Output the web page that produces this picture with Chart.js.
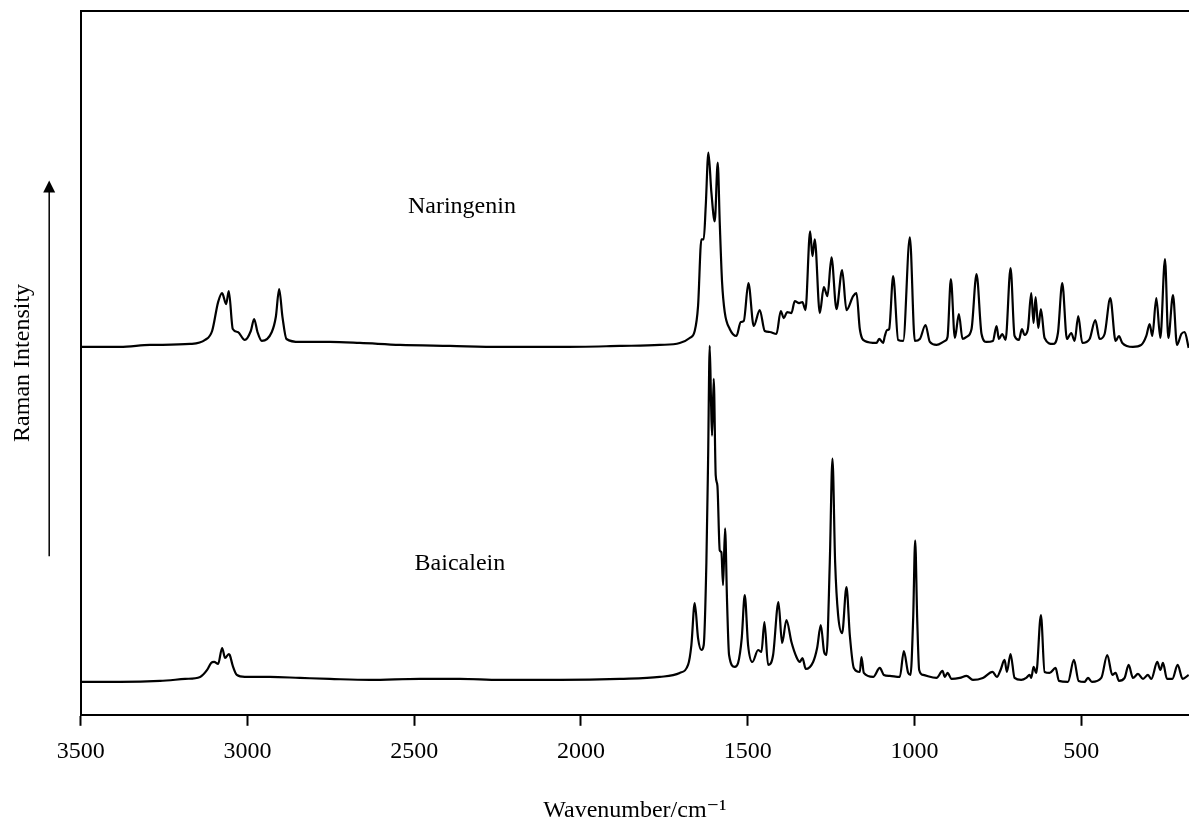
<!DOCTYPE html>
<html>
<head>
<meta charset="utf-8">
<script src="https://cdn.jsdelivr.net/npm/chart.js@4.4.1/dist/chart.umd.min.js"></script>
<style>
  html, body { margin: 0; padding: 0; background: #ffffff; }
  #wrap { width: 1189px; height: 825px; }
</style>
</head>
<body>
<div id="wrap"><canvas id="c" width="1189" height="825"></canvas></div>
<script>
// ---- data ----
const xTicks = [3500, 3000, 2500, 2000, 1500, 1000, 500];

const naringeninWn = [3500,3382,3292,3172,3127,3106,3088,3076,3064,3056,
  3044,3029,3008,2990,2980,2970,2957,2927,2915,2905,
  2895,2883,2843,2753,2663,2543,2393,2243,2063,1884,
  1764,1704,1674,1659,1649,1639,1632,1626,1618,1609,
  1599,1590,1584,1577,1569,1554,1534,1521,1512,1498,
  1482,1464,1449,1434,1414,1401,1392,1382,1369,1359,
  1346,1336,1327,1313,1306,1299,1284,1272,1261,1249,
  1234,1217,1204,1184,1174,1164,1149,1114,1106,1094,
  1089,1082,1076,1064,1049,1034,1014,999,984,967,
  954,934,909,901,891,879,867,856,844,829,
  814,799,784,765,754,747,737,727,712,700,
  687,678,670,660,650,643,637,629,621,610,
  585,570,557,543,530,520,509,497,475,458,
  445,430,413,397,387,377,345,320,305,295,
  287,275,263,249,239,225,213,200,190,178];
const naringeninI = [369,369,371,372,376,385,414,423,412,425,
  387,384,376,385,397,384,375,384,399,427,
  399,377,374,374,373,371,370,369,369,370,
  371,373,378,385,410,477,477,510,564,524,
  495,554,494,434,404,387,380,394,395,433,
  390,406,385,384,382,405,398,404,403,415,
  413,414,406,485,460,477,403,429,420,459,
  407,446,406,420,423,387,375,373,377,373,
  380,386,387,440,376,375,479,375,377,391,
  374,371,375,379,437,378,402,377,379,387,
  442,382,374,375,390,377,382,376,448,380,
  376,387,381,387,423,393,419,388,407,378,
  372,383,433,377,383,375,400,373,377,396,
  377,382,418,375,380,373,369,371,380,392,
  380,418,378,457,378,421,371,382,384,368];

const baicaleinWn = [3500,3382,3262,3187,3142,3121,3109,3100,3088,3076,
  3067,3056,3053,3044,3032,3008,2933,2843,2753,2633,
  2483,2363,2243,2063,1884,1764,1704,1679,1669,1659,
  1649,1639,1632,1624,1619,1614,1610,1607,1602,1596,
  1591,1584,1579,1574,1568,1562,1556,1539,1529,1518,
  1509,1499,1486,1469,1459,1450,1439,1424,1408,1397,
  1384,1369,1354,1344,1336,1326,1304,1292,1281,1271,
  1264,1254,1246,1238,1229,1217,1204,1194,1182,1164,
  1159,1152,1124,1104,1092,1074,1044,1032,1019,1012,
  1004,998,992,986,974,934,916,909,901,889,
  864,844,825,795,766,753,742,730,723,712,
  700,680,665,655,650,643,635,621,610,595,
  577,567,540,522,508,490,480,468,440,422,
  407,397,387,370,358,345,330,315,300,290,
  272,263,255,243,227,211,196,178];
const baicaleinI = [33,33,34,36,38,45,52,53,51,67,
  57,61,60,49,40,38,38,37,36,35,
  36,36,35,35,36,38,42,50,70,112,
  77,65,70,153,253,370,313,280,337,240,
  230,165,163,130,187,113,60,48,52,77,
  120,70,53,65,63,93,50,60,113,72,
  95,73,58,53,57,46,53,67,90,63,
  60,153,257,153,100,82,128,80,47,43,
  58,42,38,47,40,39,38,64,42,40,
  97,175,97,45,40,37,44,38,42,36,
  37,39,35,37,43,38,45,55,43,61,
  37,35,37,40,37,48,42,100,43,42,
  47,34,33,55,34,33,37,33,37,60,
  40,42,34,37,50,37,41,36,40,36,
  53,45,52,36,36,50,36,40];

const seriesNames = ['Naringenin', 'Baicalein'];

// ---- build ----
const toPts = (xs, ys) => xs.map((x, i) => ({ x: x, y: ys[i] }));
const FONT = '"Times New Roman", "Liberation Serif", "DejaVu Serif", serif';

const decorations = {
  id: 'decorations',
  afterDraw(chart, args, opts) {
    const { ctx, scales } = chart;
    const x = scales.x, y = scales.y;
    ctx.save();
    ctx.fillStyle = '#000';
    ctx.font = '24px ' + FONT;
    ctx.textAlign = 'center';
    ctx.textBaseline = 'middle';
    opts.labels.forEach(l => {
      ctx.fillText(l.text, x.getPixelForValue(l.wn), y.getPixelForValue(l.val));
    });
    const ax = chart.chartArea.left - 31.5;
    const yb = y.getPixelForValue(opts.arrow.from);
    const yt = y.getPixelForValue(opts.arrow.to);
    ctx.strokeStyle = '#000';
    ctx.lineWidth = 1.5;
    ctx.beginPath();
    ctx.moveTo(ax, yb);
    ctx.lineTo(ax, yt + 10);
    ctx.stroke();
    ctx.beginPath();
    ctx.moveTo(ax, yt);
    ctx.lineTo(ax - 6, yt + 12);
    ctx.lineTo(ax + 6, yt + 12);
    ctx.closePath();
    ctx.fill();
    ctx.restore();
  }
};

new Chart(document.getElementById('c'), {
  type: 'line',
  data: {
    datasets: [
      { label: seriesNames[0], data: toPts(naringeninWn, naringeninI) },
      { label: seriesNames[1], data: toPts(baicaleinWn, baicaleinI) }
    ]
  },
  options: {
    responsive: false,
    animation: false,
    devicePixelRatio: 1,
    events: [],
    layout: { autoPadding: false, padding: { top: 11, right: 0, bottom: 0, left: 0 } },
    elements: {
      point: { radius: 0, hoverRadius: 0, hitRadius: 0 },
      line: { borderColor: '#000', borderWidth: 2.2, cubicInterpolationMode: 'monotone', fill: false }
    },
    plugins: {
      legend: { display: false },
      tooltip: { enabled: false },
      decorations: {
        labels: [
          { text: seriesNames[0], wn: 2357, val: 510 },
          { text: seriesNames[1], wn: 2363, val: 152 }
        ],
        arrow: { from: 159, to: 536 }
      }
    },
    scales: {
      x: {
        type: 'linear',
        reverse: true,
        min: 177,
        max: 3500,
        afterBuildTicks: s => { s.ticks = xTicks.map(v => ({ value: v })); },
        grid: { display: true, drawOnChartArea: false, drawTicks: true, tickLength: 11, tickWidth: 2, color: '#000' },
        border: { display: true, color: '#000', width: 2 },
        ticks: { color: '#000', padding: 12, maxRotation: 0, autoSkip: false, font: { family: FONT, size: 24 },
                 callback: v => String(v) },
        title: { display: true, text: 'Wavenumber/cm\u207B\u00B9', color: '#000', font: { family: FONT, size: 24 }, padding: { top: 17.6, bottom: 0 } }
      },
      xTop: {
        type: 'linear',
        position: 'top',
        display: true,
        grid: { display: false, tickLength: 0, drawTicks: false },
        border: { display: true, color: '#000', width: 2 },
        ticks: { display: false }
      },
      y: {
        type: 'linear',
        min: 0,
        max: 706,
        grid: { display: false, tickLength: 0, drawTicks: false },
        border: { display: true, color: '#000', width: 2 },
        ticks: { display: false },
        title: { display: true, text: 'Raman Intensity', color: '#000', font: { family: FONT, size: 24 }, padding: { top: 8.6, bottom: 43.3 } }
      }
    }
  },
  plugins: [decorations]
});
</script>
</body>
</html>
